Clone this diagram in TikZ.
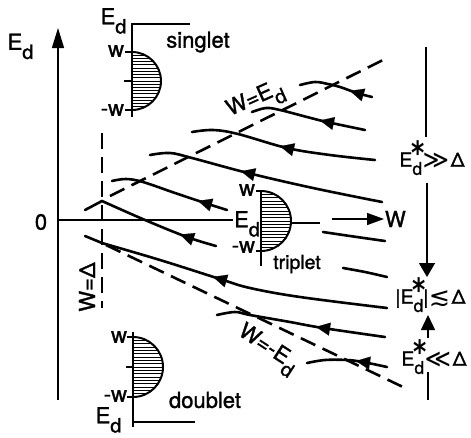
\documentclass[tikz,border=0pt]{standalone}
\usepackage{fontspec}
\usepackage{graphicx}
\setmainfont{TeX Gyre Heros}[FakeBold=1.3]
\newfontfamily\symf{DejaVu Sans}
\usetikzlibrary{arrows.meta}
\newcommand\subd[1]{\raisebox{-0.42em}{\scalebox{0.9}{#1}}}
\newcommand\Ed{E\subd{d}}
\newcommand\starsym{\raisebox{0.1em}{\scalebox{1.3}[1.65]{\symf\bfseries *}}}
\newcommand\Eds{E\makebox[0pt][l]{\kern-0.03em\starsym}\subd{d}}
\newcommand\bigsym[1]{\kern0.5pt\raisebox{-0.08em}{\scalebox{1.3}{\symf #1}}\kern1.5pt}
\newcommand\flowtip[3]{\draw[tipstyle] ({#1+6},{#2+6*#3}) -- ({#1-7},{#2-7*#3});}
\newcommand\dosplot[3]{%
  \begin{scope}
    \clip (#1,{#2-#3}) arc (-90:90:#3) -- cycle;
    \foreach \k in {1,...,17} \draw[hatch] (#1,{#2-#3+\k*2*#3/18}) -- ++({#3+2},0);
  \end{scope}
  \draw[dosline] (#1,{#2-#3}) arc (-90:90:#3);
}
\begin{document}
\begin{tikzpicture}[x=1pt,y=-1pt,
  every node/.style={inner sep=0pt,outer sep=0pt,font=\fontsize{22}{25}\selectfont},
  small/.style={font=\fontsize{19.5}{22}\selectfont},
  axisline/.style={line width=1.5pt},
  traj/.style={line width=2.6pt,line cap=round},
  dashline/.style={line width=2.6pt,dash pattern=on 16pt off 8pt},
  dosline/.style={line width=2pt},
  hatch/.style={line width=0.9pt},
  tipstyle/.style={line width=0.1pt,-{Triangle[length=14pt,width=13pt]}},
]
\useasboundingbox (0,0) rectangle (471,437);

% ---- axes
\coordinate (O) at (58,220);
\coordinate (Ybot) at (58,400);
\coordinate (Ytop) at (58,28);
\draw[axisline,-{Triangle[length=20pt,width=12pt]}] (Ybot) -- (Ytop);
\node (Elab) at (20.5,46.5) {\Ed};
\node (zero) at (41,222) {0};
\coordinate (Xa) at (233,220);
\draw[axisline] (O) -- (Xa);
\coordinate (Xb) at (291,223);
\coordinate (Xc) at (320,223);
\draw[dosline] (Xb) -- (Xc);
\coordinate (Xd) at (332,219);
\coordinate (Xe) at (384,219);
\draw[axisline,-{Triangle[length=17pt,width=12pt]}] (Xd) -- (Xe);
\node[anchor=west] (Wlab) at (385,219) {W};

% ---- singlet
\coordinate (S0) at (190,24);
\coordinate (S1) at (132,24);
\coordinate (S2) at (132,117);
\draw[dosline] (S0) -- (S1) -- (S2);
\dosplot{132}{81}{29}
\draw[dosline] (125,52) -- (132,52) (124,81) -- (132,81) (125,110) -- (132,110);
\node (sEd) at (113.5,21) {\Ed};
\node[anchor=east] (sw) at (124,51) {w};
\node[anchor=east] (smw) at (124,110) {-w};
\node (slab) at (198,42) {singlet};

% ---- doublet
\coordinate (B0) at (133,332);
\coordinate (B1) at (133,427);
\coordinate (B2) at (133,422);
\coordinate (B3) at (195,422);
\draw[dosline] (B0) -- (B1);
\draw[dosline] (B2) -- (B3);
\dosplot{133}{367}{30}
\draw[dosline] (127,337) -- (133,337) (126,367) -- (133,367) (127,397) -- (133,397);
\node[anchor=east] (dw) at (127,337) {w};
\node[anchor=east] (dmw) at (127,396) {-w};
\node (dEd) at (108.5,420) {\Ed};
\node (dlab) at (205,400) {doublet};

% ---- triplet
\coordinate (T0) at (261,190);
\coordinate (T1) at (261,266);
\draw[dosline] (T0) -- (T1);
\dosplot{261}{221}{30}
\draw[dosline] (256,191) -- (261,191) (256,251) -- (261,251);
\node[anchor=east] (tw) at (255,190) {w};
\node[anchor=east] (tmw) at (255,247) {-w};
\node (tEd) at (247,224) {\Ed};
\node[small] (tlab) at (297,264) {triplet};

% ---- dashed lines
\coordinate (DA) at (102,133);
\coordinate (DB) at (102,308);
\coordinate (P1) at (102,200);
\coordinate (P1s) at (110,196);
\coordinate (U1) at (385,59);
\coordinate (P2) at (102,243);
\coordinate (P2s) at (106,245);
\coordinate (D1) at (403,387);
\draw[dashline] (DA) -- (DB);
\draw[dashline] (P1s) -- (U1);
\draw[dashline] (P2s) -- (D1);
\node[rotate=90] (WD) at (87,287) {W=Δ};
\node[rotate=24] (WE) at (256,101) {W=\Ed};
\node[rotate=-33] (WmE) at (267,350) {W=-\Ed};

% ---- trajectories
\draw[traj] plot[smooth,tension=0.6] coordinates {(300,85) (315,82) (328,84) (340,87) (357,93) (372,97)};
\flowtip{357}{93}{0.3}
\draw[traj] plot[smooth,tension=0.6] coordinates {(252,112) (266,108) (280,110) (307,117) (327,122) (365,130)};
\flowtip{327}{122}{0.22}
\draw[traj] plot[smooth,tension=0.6] coordinates {(192,132) (213,130) (238,134) (287,148) (330,155) (375,160)};
\flowtip{287}{148}{0.25}
\draw[traj] plot[smooth,tension=0.6] coordinates {(150,155) (170,153) (192,158) (248,173) (313,188) (382,202)};
\flowtip{248}{173}{0.25}
\draw[traj] plot[smooth,tension=0.6] coordinates {(112,181) (126,179) (143,182) (175,193) (205,203) (227,210)};
\flowtip{205}{203}{0.3}
\draw[traj] plot[smooth,tension=0.6] coordinates {(323,232) (350,236) (385,241)};
\draw[traj] (85,210) -- plot[smooth,tension=0.6] coordinates {(102,201) (145,220) (187,237) (216,246)};
\flowtip{187}{237}{0.35}
\draw[traj] plot[smooth,tension=0.6] coordinates {(343,268) (365,272) (387,277)};
\draw[traj] (85,236) -- plot[smooth,tension=0.6] coordinates {(102,243) (160,260) (220,279) (250,288) (300,297) (387,308)};
\flowtip{220}{279}{0.3}
\draw[traj] plot[smooth,tension=0.6] coordinates {(217,315) (235,312) (250,315) (290,322) (323,328) (385,337)};
\flowtip{323}{328}{0.16}
\draw[traj] plot[smooth,tension=0.6] coordinates {(307,363) (325,360) (347,360) (363,362) (387,367)};
\flowtip{363}{362}{0.15}

% ---- right-hand scale
\coordinate (R0) at (426,47);
\coordinate (R1) at (426,137);
\draw[axisline] (R0) -- (R1);
\node[small] (L1) at (432,158) {\Eds\bigsym{≫}Δ};
\coordinate (R2) at (427,183);
\coordinate (R3) at (427,277);
\draw[axisline,-{Triangle[length=14pt,width=16pt]}] (R2) -- (R3);
\node[small] (L2) at (430.5,295) {|\Eds|\bigsym{≲}Δ};
\coordinate (R4) at (428,338);
\coordinate (R5) at (428,315);
\draw[axisline,-{Triangle[length=15pt,width=14pt]}] (R4) -- (R5);
\node[small] (L3) at (434,357) {\Eds\bigsym{≪}Δ};
\coordinate (R6) at (428,372);
\coordinate (R7) at (428,400);
\draw[axisline] (R6) -- (R7);
\end{tikzpicture}
\end{document}
